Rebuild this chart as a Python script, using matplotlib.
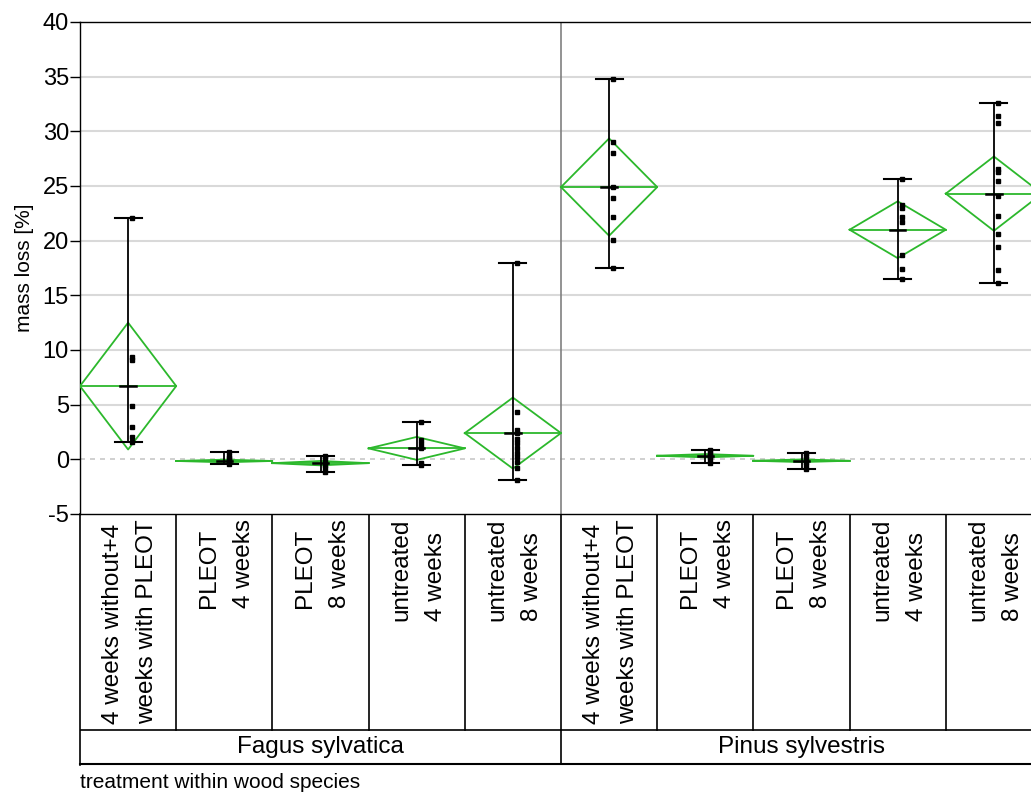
import numpy as np
import matplotlib
matplotlib.use("Agg")
import matplotlib.pyplot as plt

plt.rcParams['font.family'] = ['Liberation Sans', 'DejaVu Sans']
plt.rcParams['axes.unicode_minus'] = False

# treatment groups, Fagus first then Pinus
treatments = ['4 weeks without+4\nweeks with PLEOT', 'PLEOT\n4 weeks', 'PLEOT\n8 weeks',
              'untreated\n4 weeks', 'untreated\n8 weeks'] * 2
species = ['Fagus sylvatica', 'Pinus sylvestris']

# group means and half heights of the mean diamonds (95% CI)
means = [6.7, -0.15, -0.35, 1.0, 2.4, 24.9, 0.33, -0.13, 21.0, 24.3]
ci_half = [5.8, 0.12, 0.2, 1.05, 3.25, 4.45, 0.15, 0.12, 2.6, 3.4]

# individual mass loss measurements [%]
points = [
    [22.1, 9.4, 9.1, 4.9, 3.0, 2.0, 1.6],
    [0.7, 0.3, 0.1, -0.1, -0.2, -0.4],
    [0.3, 0.1, -0.2, -0.5, -0.8, -1.2],
    [3.4, 1.8, 1.4, 1.0, -0.3, -0.5],
    [18.0, 4.3, 2.7, 2.4, 1.9, 1.5, 1.0, 0.6, 0.2, -0.2, -0.8, -1.9],
    [34.8, 29.0, 28.0, 24.9, 23.9, 22.2, 20.1, 17.5],
    [0.85, 0.6, 0.4, 0.2, 0.0, -0.3],
    [0.6, 0.3, 0.0, -0.2, -0.5, -0.85],
    [25.6, 23.3, 23.0, 22.2, 21.7, 18.7, 17.4, 16.5],
    [32.6, 31.4, 30.8, 26.6, 26.3, 25.5, 24.1, 22.3, 20.6, 19.4, 17.3, 16.1],
]

green = '#2cb82c'
W, H = 1031, 792
fig = plt.figure(figsize=(W / 100, H / 100), dpi=100)

x0, x_right, y_top, y_bot, y_row, y_end = 80, 1031, 22, 514, 730, 765
grp_w = 96.2
xmax = (x_right - x0) / grp_w

ax = fig.add_axes([x0 / W, 1 - y_bot / H, (x_right - x0) / W, (y_bot - y_top) / H])
ax.set_xlim(0, xmax)
ax.set_ylim(-5, 40)
ax.set_yticks(np.arange(-5, 41, 5))
ax.set_xticks([])
ax.tick_params(axis='y', direction='out', length=7, width=1, labelsize=17, pad=1)
for s in ['left', 'top', 'bottom']:
    ax.spines[s].set_color('black')
    ax.spines[s].set_linewidth(1)
ax.spines['right'].set_visible(False)
for v in np.arange(5, 40, 5):
    ax.axhline(v, color='#d9d9d9', lw=1.5, zorder=0)
ax.axhline(0, color='#c8c8c8', lw=1.2, ls=(0, (3, 3)), zorder=0)
ax.axvline(5, color='#808080', lw=1.2, zorder=1)
ax.set_ylabel('mass loss [%]', fontsize=15, labelpad=6)

for i, (m, h, pts) in enumerate(zip(means, ci_half, points)):
    c = i + 0.5
    # mean diamond spanning the whole group width
    ax.plot([i, c, i + 1, c, i], [m, m + h, m, m - h, m], color=green, lw=1.3, zorder=3)
    ax.plot([i, i + 1], [m, m], color=green, lw=1.3, zorder=3)
    # range bar with caps and a mean tick
    lo, hi = min(pts), max(pts)
    ax.plot([c, c], [lo, hi], color='black', lw=1.3, zorder=4)
    ax.plot([c - 0.14, c + 0.14], [lo, lo], color='black', lw=1.5, zorder=4)
    ax.plot([c - 0.14, c + 0.14], [hi, hi], color='black', lw=1.5, zorder=4)
    ax.plot([c - 0.08, c + 0.08], [m, m], color='black', lw=1.8, zorder=4)
    ax.plot(np.full(len(pts), c + 0.045), pts, ls='none', marker='s', ms=2.2,
            color='black', zorder=5)

# category boxes below the plot
lab = fig.add_axes([x0 / W, 1 - y_end / H, (x_right - x0) / W, (y_end - y_bot) / H])
lab.set_xlim(0, xmax)
lab.set_ylim(y_end, y_bot)
lab.axis('off')
lab.plot([0, 0], [y_bot, y_end], color='black', lw=1.2, clip_on=False)
for k in range(1, 10):
    lab.plot([k, k], [y_bot, y_row], color='black', lw=1.2)
lab.plot([5, 5], [y_row, y_end], color='black', lw=1.2)
lab.plot([0, xmax], [y_row, y_row], color='black', lw=1.2)
lab.plot([0, xmax], [y_end - 0.5, y_end - 0.5], color='black', lw=1.5, clip_on=False)
for i, t in enumerate(treatments):
    lab.text(i + 0.52, y_bot + 5, t, rotation=90, ha='center', va='top',
             multialignment='left', fontsize=17.5, linespacing=1.75)
lab.text(2.5, (y_row + y_end) / 2, species[0], ha='center', va='center', fontsize=17.5)
lab.text(7.5, (y_row + y_end) / 2, species[1], ha='center', va='center', fontsize=17.5)

fig.text(x0 / W, 1 - 782 / H, 'treatment within wood species', ha='left', va='center',
         fontsize=15)

fig.savefig('out.png', dpi=100)
